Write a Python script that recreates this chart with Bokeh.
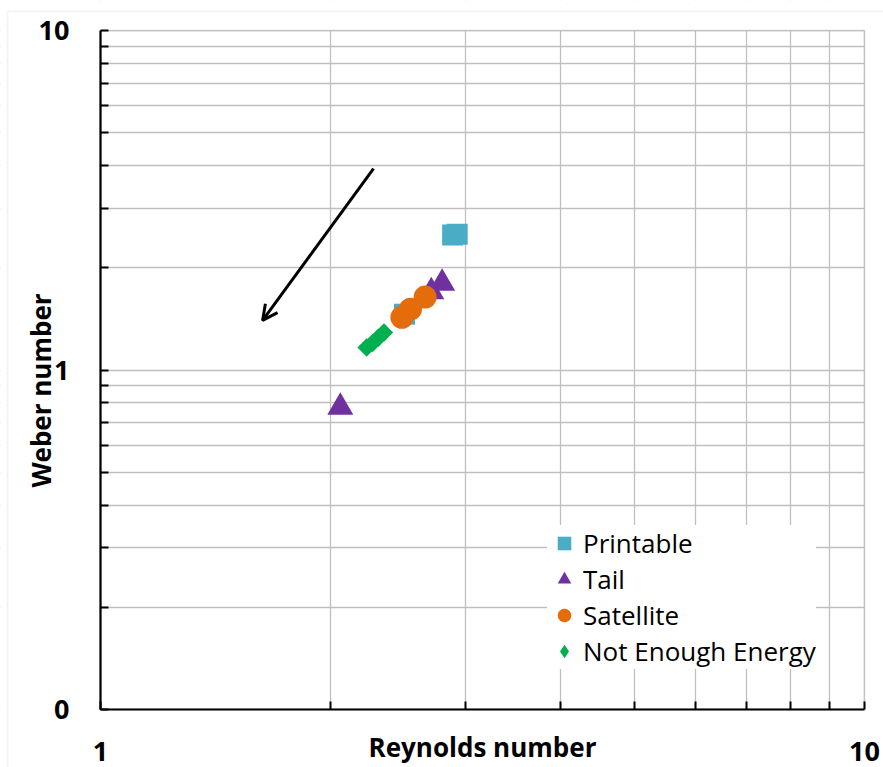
import numpy as np
from bokeh.plotting import figure
from bokeh.models import (FixedTicker, Legend, LegendItem, Arrow, OpenHead,
                          BoxAnnotation, Label)
from bokeh.embed import file_html
from bokeh.resources import INLINE

# ---- data ----
printable_re = [2.89, 2.93, 2.50]
printable_we = [2.50, 2.51, 1.46]

tail_re = [2.06, 2.71, 2.80]
tail_we = [0.777, 1.70, 1.80]

satellite_re = [2.48, 2.545, 2.66]
satellite_we = [1.43, 1.51, 1.64]

nee_re = [2.23, 2.27, 2.31, 2.35]
nee_we = [1.165, 1.20, 1.245, 1.29]

arrow_start = (2.277, 3.92)
arrow_end = (1.63, 1.40)

x_major = [1, 10]
x_major_labels = ["1", "10"]
x_minor = [2, 3, 4, 5, 6, 7, 8, 9]
y_major = [0.1, 1, 10]
y_major_labels = ["0", "1", "10"]
y_minor = [0.2, 0.3, 0.4, 0.5, 0.6, 0.7, 0.8, 0.9, 2, 3, 4, 5, 6, 7, 8, 9]
series_names = ["Printable", "Tail", "Satellite", "Not Enough Energy"]
x_title = "Reynolds number"
y_title = "Weber number"

FONT = "Open Sans"
GRID = "#bfbfbf"
W, H = 883, 767
# plot area inside the canvas: left 100, right 864, top 30, bottom 709
PL, PR, PT, PB = 100, 864, 30, 709
px_x = (PR - PL) / np.log10(x_major[-1] / x_major[0])
px_y = (PB - PT) / np.log10(y_major[-1] / y_major[0])
x_rng = (x_major[0] * 10 ** (-PL / px_x), x_major[-1] * 10 ** ((W - PR) / px_x))
y_rng = (y_major[0] * 10 ** (-(H - PB) / px_y), y_major[-1] * 10 ** (PT / px_y))

p = figure(width=W, height=H, x_axis_type="log", y_axis_type="log",
           x_range=x_rng, y_range=y_rng,
           output_backend="svg", toolbar_location=None,
           min_border=0)
p.outline_line_color = None
p.background_fill_color = "white"
p.border_fill_color = "white"

xt = FixedTicker(ticks=x_major, minor_ticks=x_minor)
yt = FixedTicker(ticks=y_major, minor_ticks=y_minor)
p.xaxis.ticker = xt
p.yaxis.ticker = yt
p.xgrid.ticker = xt
p.ygrid.ticker = yt
for g in (p.xgrid, p.ygrid):
    g.grid_line_color = GRID
    g.grid_line_width = 1.3
    g.minor_grid_line_color = GRID
    g.minor_grid_line_width = 1.3

# white covers outside the plot area (hide grid lines there)
for kw in (dict(right=x_major[0]), dict(left=x_major[-1]),
           dict(top=y_major[0]), dict(bottom=y_major[-1])):
    p.add_layout(BoxAnnotation(fill_color="white", fill_alpha=1,
                               line_color=None, level="glyph", **kw))
# plot-area border
p.add_layout(BoxAnnotation(left=x_major[0], right=x_major[-1],
                           bottom=y_major[0], top=y_major[-1],
                           fill_color=None, line_color="#7f7f7f",
                           line_width=1.5, level="glyph"))
# light outer chart frame (left edge 7 px, top edge 11 px from the canvas)
p.add_layout(BoxAnnotation(left=x_rng[0] * 10 ** (7 / px_x),
                           right=x_rng[1] * 10 ** (6 / px_x),
                           top=y_rng[1] * 10 ** (-11 / px_y),
                           bottom=y_rng[0] * 10 ** (-6 / px_y),
                           fill_color=None, line_color="#d9d9d9",
                           line_width=2, level="overlay"))

p.yaxis.major_label_overrides = dict(zip(y_major, y_major_labels))
p.xaxis.major_label_overrides = dict(zip(x_major, x_major_labels))
p.xaxis.fixed_location = y_major[0]
p.yaxis.fixed_location = x_major[0]
p.xaxis.bounds = (x_major[0], x_major[-1])
p.yaxis.bounds = (y_major[0], y_major[-1])

for ax in (p.xaxis, p.yaxis):
    ax.axis_line_color = "black"
    ax.axis_line_width = 2.2
    ax.major_tick_line_color = "black"
    ax.minor_tick_line_color = "black"
    ax.major_tick_line_width = 2
    ax.minor_tick_line_width = 2
    ax.major_tick_in = 8
    ax.major_tick_out = 0
    ax.minor_tick_in = 8
    ax.minor_tick_out = 0
    ax.major_label_text_font = FONT
    ax.major_label_text_font_style = "bold"
    ax.major_label_text_font_size = "27px"
    ax.major_label_text_color = "black"
p.xaxis.major_label_standoff = 32
p.yaxis.major_label_standoff = 31

# axis titles
p.add_layout(Label(x=np.sqrt(x_major[0] * x_major[-1]), y=H - 746,
                   x_units="data", y_units="screen", text=x_title,
                   text_align="center", text_baseline="middle",
                   text_font=FONT, text_font_style="bold",
                   text_font_size="26px", text_color="black"))
p.add_layout(Label(x=40, y=H - 390, x_units="screen", y_units="screen",
                   text=y_title, angle=np.pi / 2,
                   text_align="center", text_baseline="middle",
                   text_font=FONT, text_font_style="bold",
                   text_font_size="26px", text_color="black"))

r_p = p.scatter(printable_re, printable_we, marker="square", size=21,
                fill_color="#4BACC6", line_color=None)
r_t = p.scatter(tail_re, tail_we, marker="triangle", size=26,
                fill_color="#7030A0", line_color=None)
r_s = p.scatter(satellite_re, satellite_we, marker="circle", size=23,
                fill_color="#E46C0A", line_color=None)
# diamond renderer (gives the legend swatch; hidden under the rotated squares)
r_n_leg = p.scatter(nee_re, nee_we, marker="diamond", size=13,
                    fill_color="#00B050", line_color=None)
r_n = p.scatter(nee_re, nee_we, marker="square", size=13, angle=np.pi / 4,
                fill_color="#00B050", line_color=None)

p.add_layout(Arrow(end=OpenHead(size=15, line_width=3, line_color="black"),
                   x_start=arrow_start[0], y_start=arrow_start[1],
                   x_end=arrow_end[0], y_end=arrow_end[1],
                   line_width=3, line_color="black"))

legend = Legend(items=[
    LegendItem(label=series_names[0], renderers=[r_p]),
    LegendItem(label=series_names[1], renderers=[r_t]),
    LegendItem(label=series_names[2], renderers=[r_s]),
    LegendItem(label=series_names[3], renderers=[r_n_leg]),
], location=(547, 98))
legend.glyph_width = 34
legend.glyph_height = 34
legend.label_height = 34
legend.spacing = 0
legend.label_standoff = 2
legend.padding = 0
legend.margin = 0
legend.border_line_color = None
legend.background_fill_color = "white"
legend.background_fill_alpha = 1.0
legend.label_text_font = FONT
legend.label_text_font_size = "26px"
legend.label_text_color = "black"
p.add_layout(legend, "center")

open("out.html", "w").write(file_html(p, INLINE))
